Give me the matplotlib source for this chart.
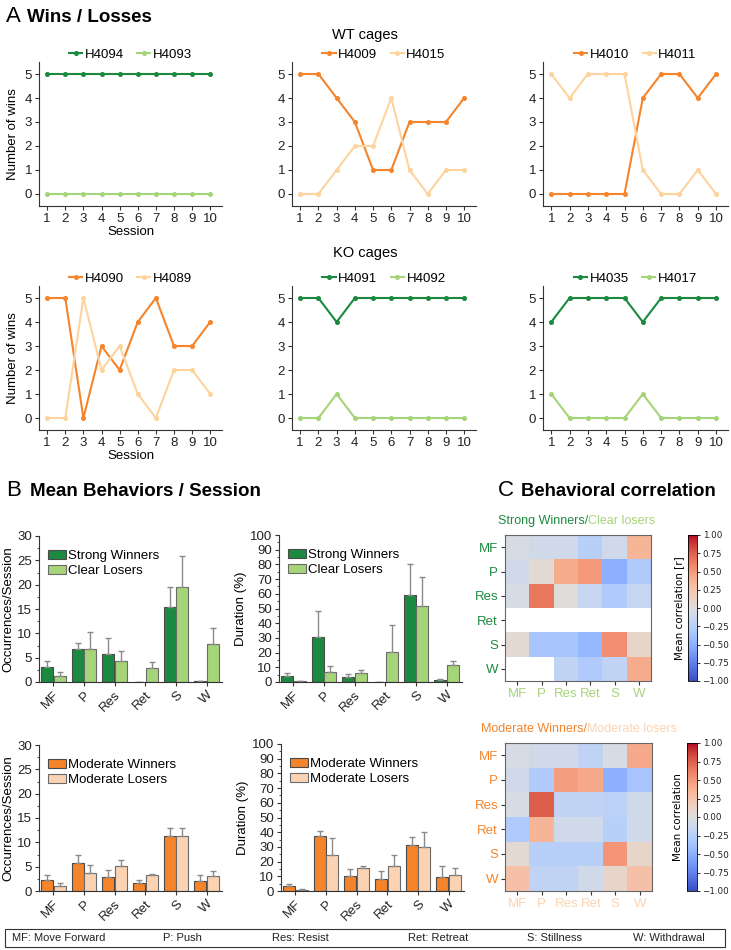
import matplotlib.pyplot as plt
import numpy as np
from matplotlib.ticker import AutoMinorLocator

plt.rcParams['font.family'] = ['Liberation Sans', 'DejaVu Sans']

DARK_GREEN = '#1b8a40'
LIGHT_GREEN = '#a6d479'
ORANGE = '#f5842b'
LIGHT_ORANGE = '#fdd39e'
PEACH = '#fcd3b2'
AX_COLOR = '#333333'

# ---- panel A data: wins per session ----
sessions = list(range(1, 11))

h4094 = [5, 5, 5, 5, 5, 5, 5, 5, 5, 5]
h4093 = [0, 0, 0, 0, 0, 0, 0, 0, 0, 0]
h4009 = [5, 5, 4, 3, 1, 1, 3, 3, 3, 4]
h4015 = [0, 0, 1, 2, 2, 4, 1, 0, 1, 1]
h4010 = [0, 0, 0, 0, 0, 4, 5, 5, 4, 5]
h4011 = [5, 4, 5, 5, 5, 1, 0, 0, 1, 0]

h4090 = [5, 5, 0, 3, 2, 4, 5, 3, 3, 4]
h4089 = [0, 0, 5, 2, 3, 1, 0, 2, 2, 1]
h4091 = [5, 5, 4, 5, 5, 5, 5, 5, 5, 5]
h4092 = [0, 0, 1, 0, 0, 0, 0, 0, 0, 0]
h4035 = [4, 5, 5, 5, 5, 4, 5, 5, 5, 5]
h4017 = [1, 0, 0, 0, 0, 1, 0, 0, 0, 0]

# ---- panel B data: mean behaviors per session ----
behaviors = ["MF", "P", "Res", "Ret", "S", "W"]

sw_occ = [3.0, 6.7, 5.8, 0.0, 15.4, 0.2]
sw_occ_err = [1.4, 1.4, 3.2, 0.0, 4.2, 0.1]
cl_occ = [1.2, 6.7, 4.3, 2.8, 19.5, 7.8]
cl_occ_err = [0.8, 3.5, 2.1, 1.4, 6.4, 3.2]

sw_dur = [4.3, 30.5, 3.6, 0.0, 59.5, 1.4]
sw_dur_err = [1.8, 18.0, 1.9, 0.0, 20.5, 0.6]
cl_dur = [0.7, 7.0, 6.4, 20.2, 51.6, 11.8]
cl_dur_err = [0.2, 4.0, 1.8, 18.7, 19.8, 2.2]

mw_occ = [2.3, 5.8, 2.9, 1.6, 11.3, 2.0]
mw_occ_err = [0.9, 1.5, 1.5, 0.6, 1.7, 1.2]
ml_occ = [1.0, 3.6, 5.1, 3.2, 11.2, 3.0]
ml_occ_err = [0.55, 1.8, 1.3, 0.35, 1.7, 1.1]

mw_dur = [3.4, 37.3, 10.0, 8.0, 31.6, 9.3]
mw_dur_err = [1.4, 3.4, 5.0, 5.4, 5.0, 7.7]
ml_dur = [1.0, 24.3, 15.7, 17.3, 29.8, 10.7]
ml_dur_err = [0.2, 11.6, 1.3, 7.0, 10.0, 4.8]

# ---- panel C data: behavioral correlation (rows x cols, NaN = empty) ----
nan = np.nan
corr_strong = [
    [-0.05, -0.10, -0.10, -0.25, -0.10, 0.35],
    [-0.10, 0.05, 0.40, 0.50, -0.50, -0.30],
    [-0.05, 0.65, 0.00, -0.15, -0.30, -0.15],
    [nan, nan, nan, nan, nan, nan],
    [0.05, -0.35, -0.35, -0.45, 0.55, 0.10],
    [nan, nan, -0.20, -0.30, -0.20, 0.40],
]
corr_moderate = [
    [-0.05, -0.10, -0.10, -0.20, -0.05, 0.42],
    [-0.10, -0.30, 0.47, 0.42, -0.50, -0.35],
    [-0.05, 0.75, -0.20, -0.20, -0.22, -0.10],
    [-0.30, 0.35, -0.10, -0.10, -0.25, -0.10],
    [0.05, -0.25, -0.25, -0.25, 0.52, 0.10],
    [0.28, -0.20, -0.20, -0.10, 0.10, 0.28],
]

legend_names = ["MF: Move Forward", "P: Push", "Res: Resist",
                "Ret: Retreat", "S: Stillness", "W: Withdrawal"]

W, H = 731, 950
fig = plt.figure(figsize=(7.31, 9.5), dpi=100)


def px_axes(left, top, right, bottom):
    return fig.add_axes([left / W, 1 - bottom / H, (right - left) / W, (bottom - top) / H])


def style_axes(ax, size=9):
    for s in ["top", "right"]:
        ax.spines[s].set_visible(False)
    for s in ["left", "bottom"]:
        ax.spines[s].set_color(AX_COLOR)
        ax.spines[s].set_linewidth(0.8)
    ax.tick_params(colors=AX_COLOR, labelcolor='#222222', width=0.8, length=3,
                   labelsize=size, pad=2)


def wins_plot(ax, name1, vals1, c1, name2, vals2, c2, left_col):
    ax.plot(sessions, vals1, color=c1, lw=1.5, marker='o', ms=2.6, label=name1)
    ax.plot(sessions, vals2, color=c2, lw=1.5, marker='o', ms=2.6, label=name2)
    ax.set_xlim(0.55, 10.65)
    ax.set_ylim(-0.5, 5.5)
    ax.set_xticks(sessions)
    ax.set_yticks(range(6))
    style_axes(ax, 9.5)
    ax.legend(loc='lower center', bbox_to_anchor=(0.5, 0.97), ncol=2, frameon=False,
              fontsize=9.5, handlelength=1.0, handletextpad=0.2, columnspacing=1.0,
              borderaxespad=0)
    if left_col:
        ax.set_ylabel("Number of wins", fontsize=9.5, labelpad=4)
        ax.set_xlabel("Session", fontsize=9.5, labelpad=0.5)


# panel A
fig.text(6 / W, 1 - 17 / H, "A", fontsize=16, va='center', ha='left')
fig.text(27 / W, 1 - 17 / H, "Wins / Losses", fontsize=13.5, fontweight='bold', va='center')
fig.text(365 / W, 1 - 35 / H, "WT cages", fontsize=10.5, ha='center', va='center')
fig.text(365 / W, 1 - 253 / H, "KO cages", fontsize=10.5, ha='center', va='center')

cols = [(39, 222), (292, 476), (543, 728)]
rows = [(62, 206), (286, 430)]
cages = [
    [("H4094", h4094, DARK_GREEN, "H4093", h4093, LIGHT_GREEN),
     ("H4009", h4009, ORANGE, "H4015", h4015, LIGHT_ORANGE),
     ("H4010", h4010, ORANGE, "H4011", h4011, LIGHT_ORANGE)],
    [("H4090", h4090, ORANGE, "H4089", h4089, LIGHT_ORANGE),
     ("H4091", h4091, DARK_GREEN, "H4092", h4092, LIGHT_GREEN),
     ("H4035", h4035, DARK_GREEN, "H4017", h4017, LIGHT_GREEN)],
]
for r, (top, bottom) in enumerate(rows):
    for c, (left, right) in enumerate(cols):
        ax = px_axes(left, top, right, bottom)
        n1, v1, c1, n2, v2, c2 = cages[r][c]
        wins_plot(ax, n1, v1, c1, n2, v2, c2, c == 0)

# panel B
fig.text(6 / W, 1 - 491 / H, "B", fontsize=16, va='center', ha='left')
fig.text(30 / W, 1 - 491 / H, "Mean Behaviors / Session", fontsize=13.5,
         fontweight='bold', va='center')


def bar_plot(ax, v1, e1, c1, v2, e2, c2, names, ylabel, ymax, step):
    x = np.arange(len(behaviors))
    w = 0.39
    err_kw = dict(ecolor='#8a8a8a', elinewidth=1.0, capsize=2.5, capthick=1.0)
    ax.bar(x - 0.205, v1, w, color=c1, edgecolor='#4a4a4a', linewidth=0.8,
           yerr=[np.zeros(len(v1)), e1], error_kw=err_kw, label=names[0])
    ax.bar(x + 0.205, v2, w, color=c2, edgecolor='#6a6a6a', linewidth=0.8,
           yerr=[np.zeros(len(v2)), e2], error_kw=err_kw, label=names[1])
    ax.set_xlim(-0.47, 5.5)
    ax.set_ylim(0, ymax)
    ax.set_yticks(np.arange(0, ymax + 0.1, step))
    ax.yaxis.set_minor_locator(AutoMinorLocator(2))
    ax.set_xticks(x)
    ax.set_xticklabels(behaviors, rotation=45, ha='right', rotation_mode='anchor')
    style_axes(ax, 9.5)
    ax.tick_params(axis='y', which='minor', length=1.8, color=AX_COLOR, width=0.6)
    ax.set_ylabel(ylabel, fontsize=9.5, labelpad=2)
    ax.legend(loc='upper left', bbox_to_anchor=(0.02, 0.94), frameon=False, fontsize=9.5,
              handlelength=1.35, handleheight=0.65, handletextpad=0.2, labelspacing=0.2,
              borderaxespad=0)


ax = px_axes(39, 536, 222, 682)
bar_plot(ax, sw_occ, sw_occ_err, DARK_GREEN, cl_occ, cl_occ_err, LIGHT_GREEN,
         ["Strong Winners", "Clear Losers"], "Occurrences/Session", 30, 5)
ax = px_axes(279, 535, 462, 682)
bar_plot(ax, sw_dur, sw_dur_err, DARK_GREEN, cl_dur, cl_dur_err, LIGHT_GREEN,
         ["Strong Winners", "Clear Losers"], "Duration (%)", 100, 10)
ax = px_axes(39, 745, 222, 891)
bar_plot(ax, mw_occ, mw_occ_err, ORANGE, ml_occ, ml_occ_err, PEACH,
         ["Moderate Winners", "Moderate Losers"], "Occurrences/Session", 30, 5)
ax = px_axes(281, 744, 464, 891)
bar_plot(ax, mw_dur, mw_dur_err, ORANGE, ml_dur, ml_dur_err, PEACH,
         ["Moderate Winners", "Moderate Losers"], "Duration (%)", 100, 10)

# panel C
fig.text(498 / W, 1 - 491 / H, "C", fontsize=16, va='center', ha='left')
fig.text(521 / W, 1 - 491 / H, "Behavioral correlation", fontsize=13.3,
         fontweight='bold', va='center')

cmap = plt.get_cmap('coolwarm').copy()
cmap.set_bad('white')
cb_ticks = np.arange(-1, 1.01, 0.25)


def heatmap(ax, cax, data, ycol, xcol, t1, t2, split, ty, cbar_label):
    m = np.ma.masked_invalid(np.array(data, dtype=float))
    im = ax.imshow(m, cmap=cmap, vmin=-1, vmax=1, aspect='auto')
    ax.set_xticks(range(6))
    ax.set_yticks(range(6))
    ax.set_xticklabels(behaviors, color=xcol, fontsize=9.5)
    ax.set_yticklabels(behaviors, color=ycol, fontsize=9.5)
    for s in ax.spines.values():
        s.set_color('#666666')
        s.set_linewidth(0.8)
    ax.tick_params(length=3, width=0.8, color=AX_COLOR, pad=2)
    cb = fig.colorbar(im, cax=cax, ticks=cb_ticks)
    cb.ax.set_yticklabels([f"{t:.2f}".replace("-", "\u2212") for t in cb_ticks],
                          fontsize=6.3, family='DejaVu Sans', color='#222222')
    cb.ax.tick_params(length=2.5, width=0.6, pad=1.5)
    cb.outline.set_linewidth(0.6)
    cb.ax.yaxis.set_label_position('left')
    cb.set_label(cbar_label, fontsize=7.5, family='DejaVu Sans', labelpad=3)
    fig.text(split / W, 1 - ty / H, t1, color=ycol, fontsize=9, ha='right', va='center')
    fig.text(split / W, 1 - ty / H, t2, color=xcol, fontsize=9, ha='left', va='center')


ax = px_axes(505, 535, 651, 681)
cax = px_axes(688, 535, 697, 681)
heatmap(ax, cax, corr_strong, DARK_GREEN, LIGHT_GREEN, "Strong Winners/", "Clear losers",
        588, 521, "Mean correlation [r]")
ax = px_axes(505, 743, 652, 891)
cax = px_axes(687, 743, 697, 891)
heatmap(ax, cax, corr_moderate, ORANGE, PEACH, "Moderate Winners/", "Moderate losers",
        587, 729, "Mean correlation")

# footer legend box
fig.patches.append(plt.Rectangle((5 / W, 1 - 947 / H), 720 / W, 18 / H,
                                 transform=fig.transFigure, fill=False,
                                 edgecolor='#333333', linewidth=0.8))
footer_x = [12, 163, 272, 408, 527, 633]
for fx, name in zip(footer_x, legend_names):
    fig.text(fx / W, 1 - 938 / H, name, fontsize=8, va='center', ha='left',
             family=['Liberation Sans Narrow', 'Liberation Sans'], color='#222222')

fig.savefig("out.png", dpi=100)
